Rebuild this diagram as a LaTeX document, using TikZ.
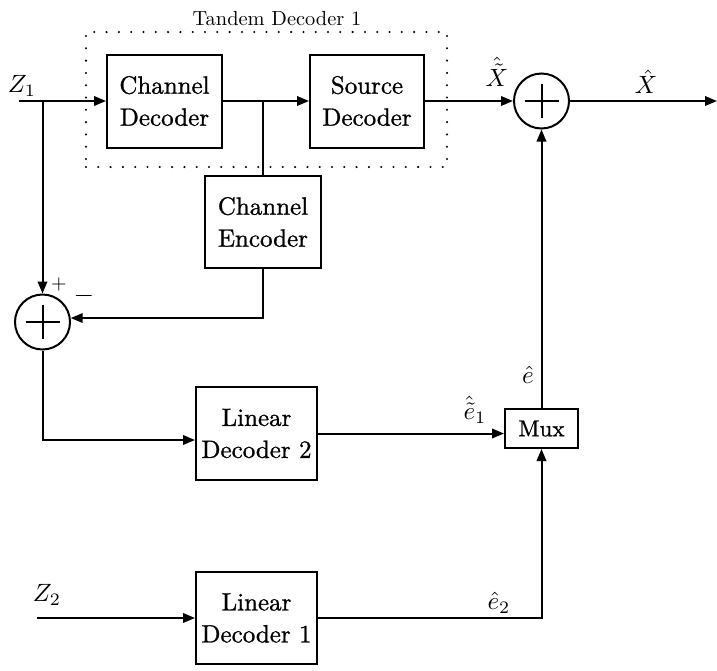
\RequirePackage{fix-cm}
\documentclass[tikz,border=0pt]{standalone}
\usetikzlibrary{arrows.meta}
\font\bxf="[lmroman10-regular]:mapping=tex-text;embolden=1" at 25pt
\font\mxf="[lmroman10-regular]:mapping=tex-text;embolden=1" at 23pt
\font\ttlf="[lmroman10-regular]:mapping=tex-text" at 20.4pt
\tikzset{
  x=1pt, y=-1pt,
  lw/.style={line width=2pt},
  arr/.style={lw, -{Triangle[length=12pt,width=9.5pt]}},
  blk/.style={draw, lw, align=center, inner sep=0pt,
    font=\fontsize{25}{32}\selectfont\bxf, minimum width=116pt, minimum height=93pt},
  muxbox/.style={draw, lw, inner sep=0pt, font=\fontsize{23}{28}\selectfont\mxf,
    minimum width=73pt, minimum height=39pt},
  sumnode/.style={draw, lw, circle, minimum size=55pt, inner sep=0pt,
    path picture={
      \draw[lw] ([xshift=-17pt]path picture bounding box.center) -- ([xshift=17pt]path picture bounding box.center);
      \draw[lw] ([yshift=-17pt]path picture bounding box.center) -- ([yshift=17pt]path picture bounding box.center);
    }},
  dotbox/.style={draw, line width=2.3pt, line cap=round, dash pattern=on 0pt off 12.3pt},
  lbl/.style={inner sep=0pt, font=\fontsize{10}{12}\selectfont, scale=2.5, transform shape},
}
\begin{document}
\begin{tikzpicture}
\useasboundingbox (0,0) rectangle (717,670);
% dotted tandem box
\node[dotbox, minimum width=361pt, minimum height=135pt] (tandem) at (266.5,99.5) {};
\node[inner sep=0pt, font=\fontsize{20.4}{24}\selectfont\ttlf] (title) at (277,19) {Tandem Decoder 1};
% blocks
\node[blk, minimum width=115pt] (cd) at (164.5,101) {Channel\\Decoder};
\node[blk, minimum width=114pt] (sd) at (367,101) {Source\\Decoder};
\node[blk, minimum height=92pt] (ce) at (263,222) {Channel\\Encoder};
\node[blk, minimum width=121pt] (ld2) at (256.5,433.5) {Linear\\Decoder 2};
\node[blk, minimum width=121pt, minimum height=92pt] (ld1) at (256.5,618) {Linear\\Decoder 1};
\node[muxbox] (mux) at (541.5,428.5) {Mux};
\node[sumnode] (sumT) at (541.5,101) {};
\node[sumnode] (sumL) at (42.5,322) {};
% coordinates
\coordinate (z1) at (19,101);
\coordinate (b1) at (42.5,101);
\coordinate (b2) at (263,101);
\coordinate (out) at (717,101);
\coordinate (z2) at (37,618);
% connectors
\draw[arr] (z1) -- (cd.west);
\draw[arr] (cd.east) -- (sd.west);
\draw[arr] (sd.east) -- (sumT.west);
\draw[arr] (sumT.east) -- (out);
\draw[lw] (b2) -- (ce.north);
\draw[arr] (b1) -- (sumL.north);
\draw[arr] (ce.south) |- (sumL.8);
\draw[arr] (sumL.south) |- ([yshift=-6.5pt]ld2.west);
\draw[arr] (ld2.east) -- (ld2.east -| mux.west);
\draw[arr] (z2) -- (ld1.west);
\draw[arr] (ld1.east) -| (mux.south);
\draw[arr] (mux.north) -- (sumT.south);
% labels
\node[lbl] (lz1) at (22,86) {$Z_1$};
\node[lbl] (lz2) at (47,595) {$Z_2$};
\node[lbl] (lxt) at (497,72) {$\hat{\tilde{X}}$};
\node[lbl] (lxh) at (646,82) {$\hat{X}$};
\node[lbl] (le) at (528,375) {$\hat{e}$};
\node[lbl] (le1) at (475,410) {$\hat{\tilde{e}}_1$};
\node[lbl] (le2) at (499,603) {$\hat{e}_2$};
\node[lbl, scale=0.8] (plus) at (59,284) {$+$};
\node[lbl, scale=1.04] (minus) at (84,296) {$-$};
\end{tikzpicture}
\end{document}
